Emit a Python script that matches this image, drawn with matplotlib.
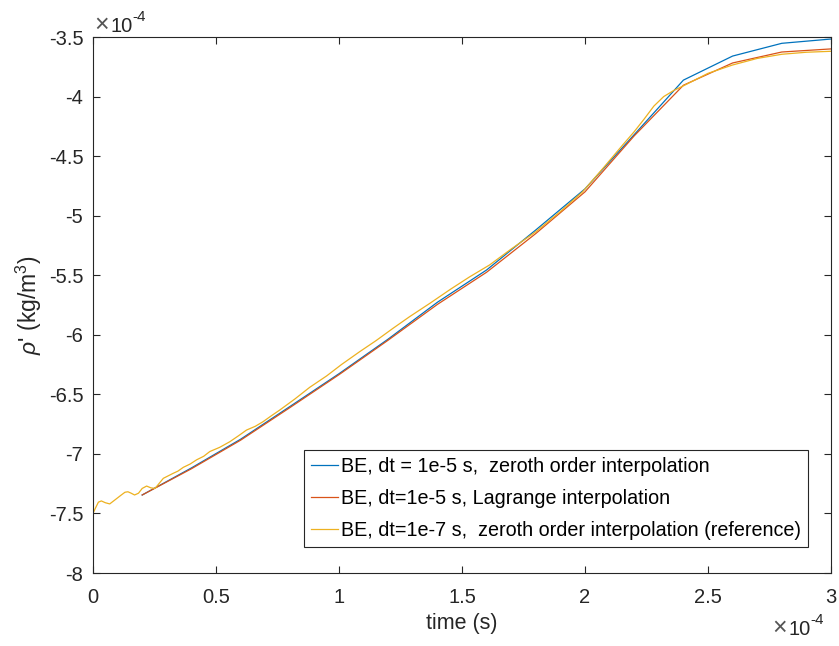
import matplotlib
matplotlib.use("Agg")
import matplotlib.pyplot as plt

plt.rcParams['font.family'] = ['Liberation Sans', 'DejaVu Sans']
plt.rcParams['mathtext.fontset'] = 'custom'
plt.rcParams['mathtext.rm'] = 'Liberation Sans'
plt.rcParams['mathtext.it'] = 'Liberation Sans:italic'
plt.rcParams['axes.unicode_minus'] = False

# time in units of 1e-4 s, density perturbation in units of 1e-4 kg/m^3
t_coarse = [0.2, 0.4, 0.6, 0.8, 1.0, 1.2, 1.4, 1.6, 1.8, 2.0, 2.2, 2.4, 2.6, 2.8, 3.0]
rho_zeroth = [-7.345, -7.118, -6.877, -6.603, -6.327, -6.036, -5.727, -5.456,
              -5.120, -4.775, -4.320, -3.862, -3.660, -3.553, -3.517]
rho_lagrange = [-7.345, -7.125, -6.885, -6.612, -6.335, -6.045, -5.745, -5.475,
                -5.150, -4.800, -4.330, -3.905, -3.718, -3.626, -3.600]

t_ref = [0.000, 0.010, 0.022, 0.034, 0.050, 0.068, 0.090, 0.115, 0.130, 0.142,
         0.155, 0.169, 0.185, 0.200, 0.218, 0.235, 0.252, 0.270, 0.286, 0.305,
         0.326, 0.345, 0.367, 0.395, 0.421, 0.450, 0.475, 0.515, 0.556, 0.590,
         0.624, 0.660, 0.691, 0.725, 0.759, 0.820, 0.881, 0.950, 1.010, 1.084,
         1.150, 1.220, 1.287, 1.370, 1.453, 1.530, 1.612, 1.700, 1.800, 1.900,
         1.990, 2.070, 2.153, 2.200, 2.240, 2.280, 2.320, 2.360, 2.400, 2.500,
         2.600, 2.700, 2.800, 2.900, 3.000]
rho_ref = [-7.500, -7.455, -7.405, -7.395, -7.410, -7.420, -7.385, -7.345, -7.322, -7.318,
           -7.330, -7.345, -7.330, -7.290, -7.270, -7.285, -7.290, -7.245, -7.205, -7.185,
           -7.163, -7.145, -7.113, -7.085, -7.050, -7.020, -6.980, -6.945, -6.898, -6.850,
           -6.800, -6.768, -6.730, -6.680, -6.632, -6.540, -6.441, -6.345, -6.250, -6.142,
           -6.050, -5.945, -5.848, -5.735, -5.618, -5.515, -5.414, -5.280, -5.135, -4.965,
           -4.800, -4.610, -4.407, -4.295, -4.190, -4.080, -4.000, -3.950, -3.910, -3.805,
           -3.735, -3.680, -3.645, -3.628, -3.620]

labels = ["BE, dt = 1e-5 s,  zeroth order interpolation",
          "BE, dt=1e-5 s, Lagrange interpolation",
          "BE, dt=1e-7 s,  zeroth order interpolation (reference)"]
colors = ["#0072BD", "#D95319", "#EDB120"]

x_ticks = [0, 0.5, 1, 1.5, 2, 2.5, 3]
x_ticklabels = ["0", "0.5", "1", "1.5", "2", "2.5", "3"]
y_ticks = [-8, -7.5, -7, -6.5, -6, -5.5, -5, -4.5, -4, -3.5]
y_ticklabels = ["-8", "-7.5", "-7", "-6.5", "-6", "-5.5", "-5", "-4.5", "-4", "-3.5"]

fig = plt.figure(figsize=(8.39, 6.46), dpi=100)
ax = fig.add_axes([93 / 839, 1 - 573 / 646, (831 - 93) / 839, (573 - 37) / 646])

ax.plot(t_coarse, rho_zeroth, color=colors[0], lw=0.9, label=labels[0])
ax.plot(t_coarse, rho_lagrange, color=colors[1], lw=0.9, label=labels[1])
ax.plot(t_ref, rho_ref, color=colors[2], lw=0.9, label=labels[2])

ax.set_xlim(0, 3)
ax.set_ylim(-8, -3.5)
ax.set_xticks(x_ticks)
ax.set_xticklabels(x_ticklabels)
ax.set_yticks(y_ticks)
ax.set_yticklabels(y_ticklabels)

dark = "#262626"
for s in ax.spines.values():
    s.set_color(dark)
    s.set_linewidth(0.8)
ax.tick_params(direction='in', length=5.3, width=0.8, colors=dark, labelsize=14.5,
               top=True, right=True, pad=7)
ax.tick_params(axis='x', pad=11)

ax.set_xlabel("time (s)", fontsize=15.5, color=dark, labelpad=4)
ax.set_ylabel(r"$\rho$' (kg/m$^3$)", fontsize=16.5, color=dark, labelpad=3)


def exponent_label(x0, baseline):
    """Draw a '×10^-4' axis multiplier with its left edge at pixel x0."""
    fig.text(x0 / 839, 1 - baseline / 646, "×", fontsize=18, color="#555555",
             ha='left', va='baseline')
    fig.text((x0 + 17) / 839, 1 - baseline / 646, "10", fontsize=14.5, color=dark,
             ha='left', va='baseline')
    fig.text((x0 + 38) / 839, 1 - (baseline - 11) / 646, "-4", fontsize=11, color=dark,
             ha='left', va='baseline')


exponent_label(94, 32)
exponent_label(772, 635)

leg = ax.legend(loc='lower right', bbox_to_anchor=(0.969, 0.0485), fontsize=14.2,
                frameon=True, fancybox=False, framealpha=1, edgecolor=dark,
                handlelength=1.4, handletextpad=0.15, borderpad=0.35,
                labelspacing=0.66, borderaxespad=0)
leg.get_frame().set_linewidth(0.8)
for text in leg.get_texts():
    text.set_color("#000000")

fig.savefig("out.png", dpi=100)
